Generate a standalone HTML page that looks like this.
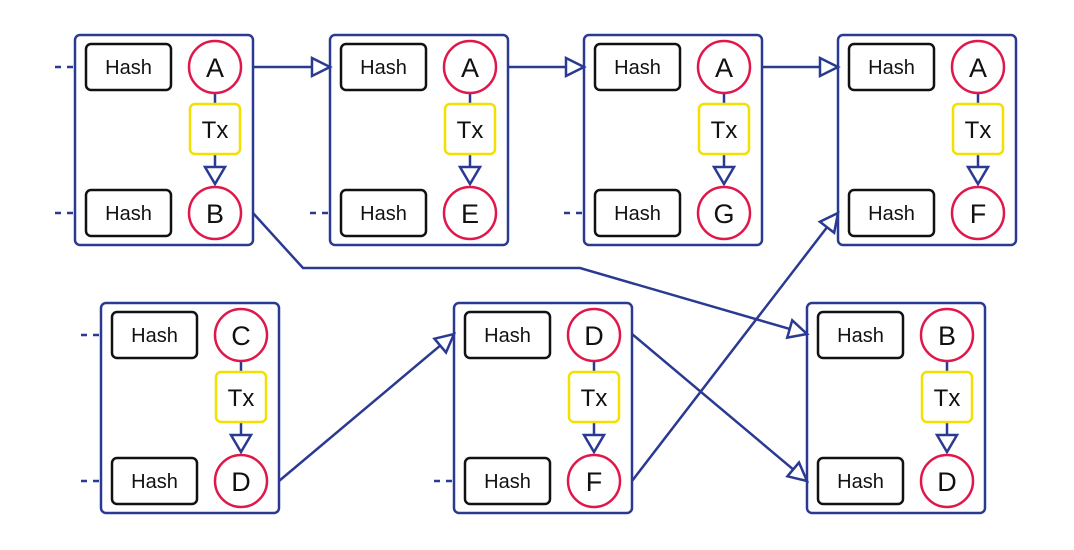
<!DOCTYPE html>
<html><head><meta charset="utf-8"><style>
html,body{margin:0;padding:0;background:#fff;width:1074px;height:550px;overflow:hidden}
svg{display:block}
text{font-family:"Liberation Sans","DejaVu Sans",sans-serif}
</style></head><body>
<svg id="d" width="1074" height="550" viewBox="0 0 1074 550"></svg>
<script>
const NS='http://www.w3.org/2000/svg';
const svg=document.getElementById('d');
const blocks=[
 {x:75,y:35,top:'A',bot:'B',dTop:true,dBot:true},
 {x:330,y:35,top:'A',bot:'E',dTop:false,dBot:true},
 {x:584,y:35,top:'A',bot:'G',dTop:false,dBot:true},
 {x:838,y:35,top:'A',bot:'F',dTop:false,dBot:false},
 {x:101,y:303,top:'C',bot:'D',dTop:true,dBot:true},
 {x:454,y:303,top:'D',bot:'F',dTop:false,dBot:true},
 {x:807,y:303,top:'B',bot:'D',dTop:false,dBot:false}
];
const links=[
 [[253,67],[330,67]],
 [[507,67],[584,67]],
 [[761,67],[838,67]],
 [[253,213],[303,268],[580,268],[807,334]],
 [[279,481],[454,334]],
 [[632,334],[807,481]],
 [[632,481],[838,213]]
];
function el(tag,attrs,parent){const e=document.createElementNS(NS,tag);for(const k in attrs)e.setAttribute(k,attrs[k]);(parent||svg).appendChild(e);return e;}
const BLUE='#2a3a92';
blocks.forEach((b,i)=>{
 const g=el('g',{});
 
 
 const r=el('rect',{x:b.x,y:b.y,width:178,height:210,rx:5,fill:'#fff',stroke:BLUE,'stroke-width':2.5},g);
 
 
 const cx=b.x+140, ty=b.y+32, by=b.y+178;
 [[ty,b.dTop],[by,b.dBot]].forEach(([yy,dash])=>{
  if(dash){const l=el('line',{x1:b.x-20,y1:yy,x2:b.x,y2:yy,stroke:BLUE,'stroke-width':2.5,'stroke-dasharray':'6,6'},g);
   
   }
  const h=el('rect',{x:b.x+11,y:yy-23,width:85,height:46,rx:5,fill:'#fff',stroke:'#111','stroke-width':2.5},g);
  
  
  const t=el('text',{x:b.x+53.5,y:yy+7,'font-size':20,'text-anchor':'middle',fill:'#111'},g);t.textContent='Hash';
  
  
 });
 el('line',{x1:cx,y1:ty+27,x2:cx,y2:b.y+69,stroke:BLUE,'stroke-width':2.5},g);
 el('line',{x1:cx,y1:b.y+119,x2:cx,y2:b.y+132,stroke:BLUE,'stroke-width':2.5},g);
 el('polygon',{points:`${cx-10},${b.y+132} ${cx+10},${b.y+132} ${cx},${b.y+149}`,fill:'#fff',stroke:BLUE,'stroke-width':2.5},g);
 const tx=el('rect',{x:cx-25,y:b.y+69,width:50,height:50,rx:5,fill:'#fff',stroke:'#f2e000','stroke-width':2.5},g);
 
 
 const tt=el('text',{x:cx,y:b.y+103,'font-size':24,'text-anchor':'middle',fill:'#111'},g);tt.textContent='Tx';
 
 
 [[ty,b.top],[by,b.bot]].forEach(([yy,L])=>{
  const c=el('circle',{cx:cx,cy:yy,r:26,fill:'#fff',stroke:'#e0174a','stroke-width':2.5},g);
  
  
  const t=el('text',{x:cx,y:yy+10,'font-size':27,'text-anchor':'middle',fill:'#111'},g);t.textContent=L;
  
  
 });
});
links.forEach(pts=>{
 const n=pts.length,[x1,y1]=pts[n-2],[x2,y2]=pts[n-1];
 const dx=x2-x1,dy=y2-y1,len=Math.hypot(dx,dy),ux=dx/len,uy=dy/len;
 const L=18,W=9;
 const bx=x2-ux*L,by=y2-uy*L;
 const linePts=pts.slice(0,n-1).concat([[bx,by]]);
 const p=el('polyline',{points:linePts.map(q=>q.join(',')).join(' '),fill:'none',stroke:BLUE,'stroke-width':2.5});
 
 
 const a=el('polygon',{points:`${x2},${y2} ${bx-uy*W},${by+ux*W} ${bx+uy*W},${by-ux*W}`,fill:'#fff',stroke:BLUE,'stroke-width':2.5});
 
 
});
</script>
</body></html>
